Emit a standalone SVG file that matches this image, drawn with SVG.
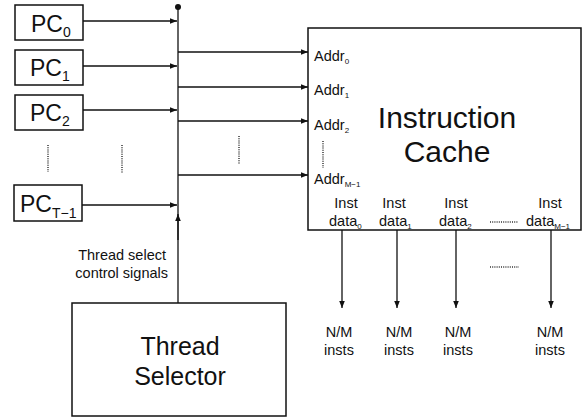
<svg xmlns="http://www.w3.org/2000/svg" width="584" height="417" viewBox="0 0 584 417">
<defs>
<style>
.box{fill:#fff;stroke:#111;stroke-width:1.5}
.ln{fill:none;stroke:#111;stroke-width:1.3}
.dot{fill:none;stroke:#333;stroke-width:1.5;stroke-dasharray:1 1.2}
text{font-family:"Liberation Sans",Arial,sans-serif;fill:#111}
.pc{font-size:23px}
.sub{font-size:14px}
.sm{font-size:14.5px}
.xs{font-size:8px}
</style>
<marker id="ah" viewBox="0 0 10 10" refX="10" refY="5" markerWidth="7" markerHeight="7" orient="auto" markerUnits="userSpaceOnUse">
<path d="M0,1 L10,5 L0,9 Z" fill="#111"/>
</marker>
</defs>
<rect width="584" height="417" fill="#fff"/>

<g id="pc0"><rect class="box" x="15" y="5" width="68" height="35"/><text class="pc" x="31" y="32">PC<tspan class="sub" dy="5">0</tspan></text></g>
<g id="pc1"><rect class="box" x="15" y="50" width="68" height="35"/><text class="pc" x="30" y="76">PC<tspan class="sub" dy="5">1</tspan></text></g>
<g id="pc2"><rect class="box" x="15" y="95" width="68" height="35"/><text class="pc" x="30" y="121">PC<tspan class="sub" dy="5">2</tspan></text></g>
<g id="pcT"><rect class="box" x="14" y="185" width="68" height="36"/><text class="pc" x="20" y="212">PC<tspan class="sub" dy="6">T−1</tspan></text></g>

<g id="cache"><rect class="box" x="308" y="28" width="273" height="202"/>
<text style="font-size:30px" x="447" y="128" text-anchor="middle">Instruction</text>
<text style="font-size:30px" x="447" y="162" text-anchor="middle">Cache</text>
<text class="sm" x="314" y="61">Addr<tspan class="xs" dy="3">0</tspan></text>
<text class="sm" x="314" y="95">Addr<tspan class="xs" dy="3">1</tspan></text>
<text class="sm" x="314" y="130">Addr<tspan class="xs" dy="3">2</tspan></text>
<text class="sm" x="314" y="184">Addr<tspan class="xs" dy="3">M−1</tspan></text>
<line class="dot" x1="323" y1="141" x2="323" y2="168"/>
<text class="sm" x="346" y="208" text-anchor="middle">Inst</text>
<text class="sm" x="329" y="226">data<tspan class="xs" dy="3">0</tspan></text>
<text class="sm" x="394" y="208" text-anchor="middle">Inst</text>
<text class="sm" x="379" y="226">data<tspan class="xs" dy="3">1</tspan></text>
<text class="sm" x="456" y="208" text-anchor="middle">Inst</text>
<text class="sm" x="439" y="226">data<tspan class="xs" dy="3">2</tspan></text>
<text class="sm" x="550" y="208" text-anchor="middle">Inst</text>
<text class="sm" x="526" y="226">data<tspan class="xs" dy="3">M−1</tspan></text>
<line class="dot" x1="490" y1="222" x2="518" y2="222"/>
</g>

<g id="selector"><rect class="box" x="72" y="303" width="214" height="113"/>
<text style="font-size:25px" x="180" y="355" text-anchor="middle">Thread</text>
<text style="font-size:25px" x="180" y="385" text-anchor="middle">Selector</text>
</g>

<g id="connectors">
<circle cx="178" cy="7" r="3" fill="#111"/>
<line class="ln" x1="178" y1="7" x2="178" y2="303"/>
<line class="ln" x1="83" y1="21" x2="177" y2="21" marker-end="url(#ah)"/>
<line class="ln" x1="83" y1="66" x2="177" y2="66" marker-end="url(#ah)"/>
<line class="ln" x1="83" y1="110" x2="177" y2="110" marker-end="url(#ah)"/>
<line class="ln" x1="82" y1="205" x2="177" y2="205" marker-end="url(#ah)"/>
<line class="ln" x1="178" y1="52" x2="308" y2="52" marker-end="url(#ah)"/>
<line class="ln" x1="178" y1="87" x2="308" y2="87" marker-end="url(#ah)"/>
<line class="ln" x1="178" y1="121" x2="308" y2="121" marker-end="url(#ah)"/>
<line class="ln" x1="178" y1="175" x2="308" y2="175" marker-end="url(#ah)"/>
<line class="ln" x1="178" y1="240" x2="178" y2="214" marker-end="url(#ah)"/>
<line class="ln" x1="342" y1="230" x2="342" y2="308" marker-end="url(#ah)"/>
<line class="ln" x1="397" y1="230" x2="397" y2="308" marker-end="url(#ah)"/>
<line class="ln" x1="456" y1="230" x2="456" y2="308" marker-end="url(#ah)"/>
<line class="ln" x1="551" y1="230" x2="551" y2="308" marker-end="url(#ah)"/>
</g>

<g id="labels">
<line class="dot" x1="48" y1="145" x2="48" y2="172"/>
<line class="dot" x1="122" y1="145" x2="122" y2="173"/>
<line class="dot" x1="239" y1="136" x2="239" y2="164"/>
<line class="dot" x1="490" y1="267" x2="519" y2="267"/>
<text class="sm" x="166" y="260" text-anchor="end">Thread select</text>
<text class="sm" x="168" y="278" text-anchor="end">control signals</text>
<text class="sm" x="339" y="337" text-anchor="middle">N/M</text>
<text class="sm" x="339" y="355" text-anchor="middle">insts</text>
<text class="sm" x="399" y="337" text-anchor="middle">N/M</text>
<text class="sm" x="399" y="355" text-anchor="middle">insts</text>
<text class="sm" x="458" y="337" text-anchor="middle">N/M</text>
<text class="sm" x="458" y="355" text-anchor="middle">insts</text>
<text class="sm" x="550" y="337" text-anchor="middle">N/M</text>
<text class="sm" x="550" y="355" text-anchor="middle">insts</text>
</g>
</svg>
